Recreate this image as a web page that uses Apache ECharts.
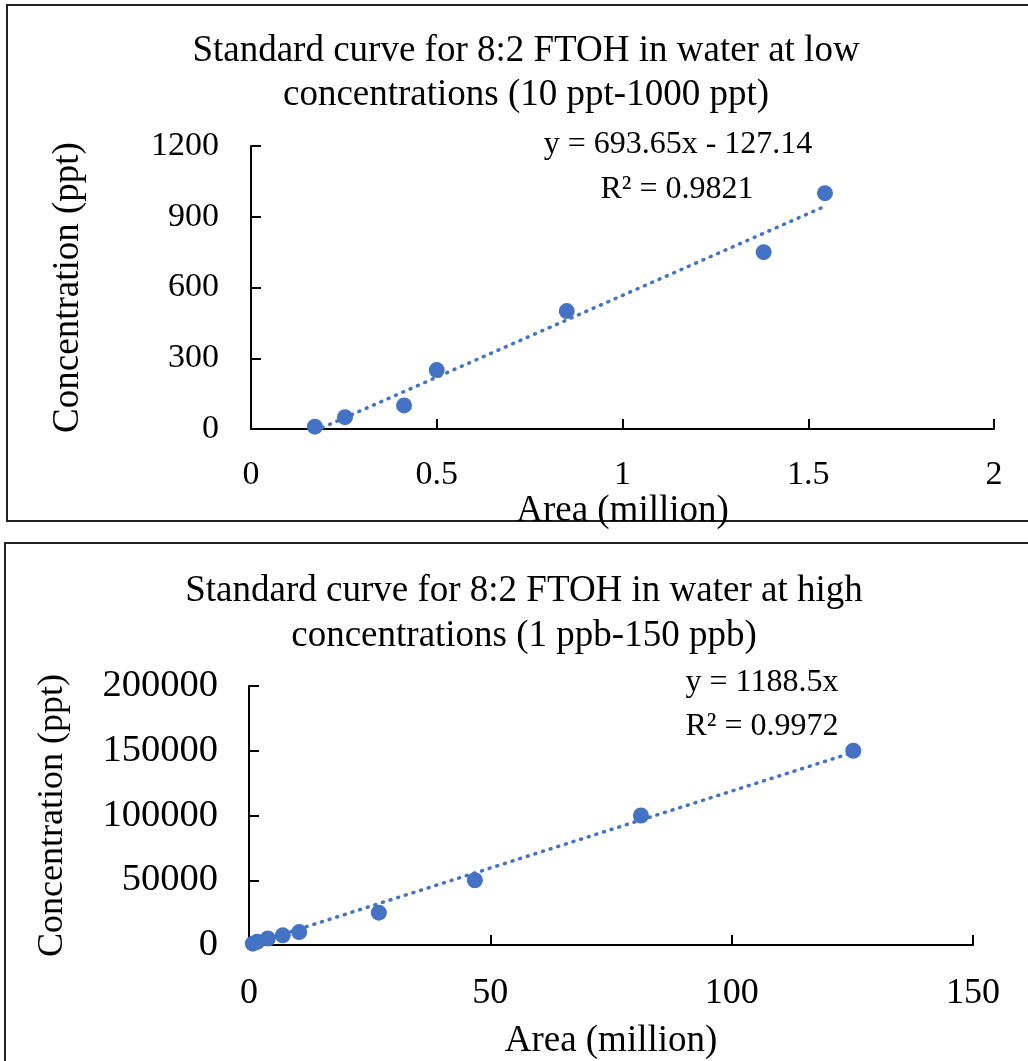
<!DOCTYPE html>
<html lang="en">
<head>
<meta charset="utf-8">
<title>8:2 FTOH standard curves</title>
<script src="https://cdn.jsdelivr.net/npm/echarts@6/dist/echarts.min.js"></script>
<style>
  html, body { margin: 0; padding: 0; background: #fff; }
  #main { width: 1028px; height: 1061px; }
</style>
</head>
<body>
<div id="main"></div>
<script>
// low range standards: area (million) vs concentration (ppt)
var lowArea = [0.172, 0.253, 0.412, 0.50, 0.85, 1.38, 1.545];
var lowConc = [10, 50, 100, 250, 500, 750, 1000];
var lowFit = { slope: 693.65, intercept: -127.14 };

// high range standards
var highArea = [0.8, 1.7, 3.9, 7.0, 10.4, 26.9, 46.8, 81.2, 125.2];
var highConc = [1000, 2500, 5000, 7500, 10000, 25000, 50000, 100000, 150000];
var highFit = { slope: 1188.5, intercept: 0 };

var lowXTicks = [0, 0.5, 1, 1.5, 2];
var lowYTicks = [0, 300, 600, 900, 1200];
var highXTicks = [0, 50, 100, 150];
var highYTicks = [0, 50000, 100000, 150000, 200000];

var blue = '#4472C4';
var serif = '"Liberation Serif", "Times New Roman", serif';

function pairs(xs, ys) {
    return xs.map(function (x, i) { return [x, ys[i]]; });
}
// excel style trendline, drawn over the range of the data
function trend(xs, fit) {
    var x0 = Math.min.apply(null, xs), x1 = Math.max.apply(null, xs);
    return [[x0, fit.slope * x0 + fit.intercept], [x1, fit.slope * x1 + fit.intercept]];
}

function valueAxis(idx, ticks, name, nameGap, nameSize, labelSize, labelMargin) {
    return {
        type: 'value',
        gridIndex: idx,
        min: ticks[0],
        max: ticks[ticks.length - 1],
        interval: ticks[1] - ticks[0],
        name: name,
        nameLocation: 'middle',
        nameGap: nameGap,
        nameTextStyle: { fontFamily: serif, fontSize: nameSize, color: '#000' },
        axisLine: { show: true, lineStyle: { color: '#000', width: 2 } },
        axisTick: { show: true, inside: true, length: 10, lineStyle: { color: '#000', width: 2 } },
        axisLabel: {
            fontFamily: serif, fontSize: labelSize, color: '#000', margin: labelMargin,
            formatter: function (v) { return String(v); }
        },
        splitLine: { show: false }
    };
}

function eqText(x, y, txt) {
    return {
        type: 'text', x: x, y: y, silent: true,
        style: { text: txt, font: '32px ' + serif, fill: '#000', align: 'center', verticalAlign: 'middle' }
    };
}

var myChart = echarts.init(document.getElementById('main'));
var option = {
    backgroundColor: '#fff',
    animation: false,
    title: [
        {
            text: 'Standard curve for 8:2 FTOH in water at low\nconcentrations (10 ppt-1000 ppt)',
            left: 521, top: 24, textAlign: 'center',
            textStyle: { fontFamily: serif, fontSize: 37, fontWeight: 'normal', color: '#000', lineHeight: 44 }
        },
        {
            text: 'Standard curve for 8:2 FTOH in water at high\nconcentrations (1 ppb-150 ppb)',
            left: 519, top: 564, textAlign: 'center',
            textStyle: { fontFamily: serif, fontSize: 37, fontWeight: 'normal', color: '#000', lineHeight: 45 }
        }
    ],
    grid: [
        { left: 251, top: 146, width: 743, height: 283 },
        { left: 249, top: 686, width: 724, height: 259 }
    ],
    xAxis: [
        valueAxis(0, lowXTicks, 'Area (million)', 45, 37, 34, 29),
        valueAxis(1, highXTicks, 'Area (million)', 78, 37, 36, 31)
    ],
    yAxis: [
        valueAxis(0, lowYTicks, 'Concentration (ppt)', 164, 37, 34, 32),
        valueAxis(1, highYTicks, 'Concentration (ppt)', 178, 36, 38.5, 31)
    ],
    graphic: [
        { type: 'rect', shape: { x: 7, y: 5, width: 1040, height: 516 },
          style: { fill: 'none', stroke: '#222', lineWidth: 2 }, silent: true },
        { type: 'rect', shape: { x: 5, y: 543, width: 1040, height: 540 },
          style: { fill: 'none', stroke: '#222', lineWidth: 2 }, silent: true },
        eqText(678, 145, 'y = 693.65x - 127.14'),
        eqText(677, 190, 'R² = 0.9821'),
        eqText(762, 683, 'y = 1188.5x'),
        eqText(762, 727, 'R² = 0.9972')
    ],
    series: [
        {
            type: 'line', xAxisIndex: 0, yAxisIndex: 0,
            data: trend(lowArea, lowFit), symbol: 'none', clip: false,
            lineStyle: { color: blue, width: 3.5, type: [1, 7], cap: 'round' }
        },
        {
            type: 'scatter', xAxisIndex: 0, yAxisIndex: 0,
            data: pairs(lowArea, lowConc), symbolSize: 16,
            itemStyle: { color: blue, opacity: 1 }
        },
        {
            type: 'line', xAxisIndex: 1, yAxisIndex: 1,
            data: trend(highArea, highFit), symbol: 'none', clip: false,
            lineStyle: { color: blue, width: 3.5, type: [1, 7], cap: 'round' }
        },
        {
            type: 'scatter', xAxisIndex: 1, yAxisIndex: 1,
            data: pairs(highArea, highConc), symbolSize: 16,
            itemStyle: { color: blue, opacity: 1 }
        }
    ]
};
myChart.setOption(option);
</script>
</body>
</html>
